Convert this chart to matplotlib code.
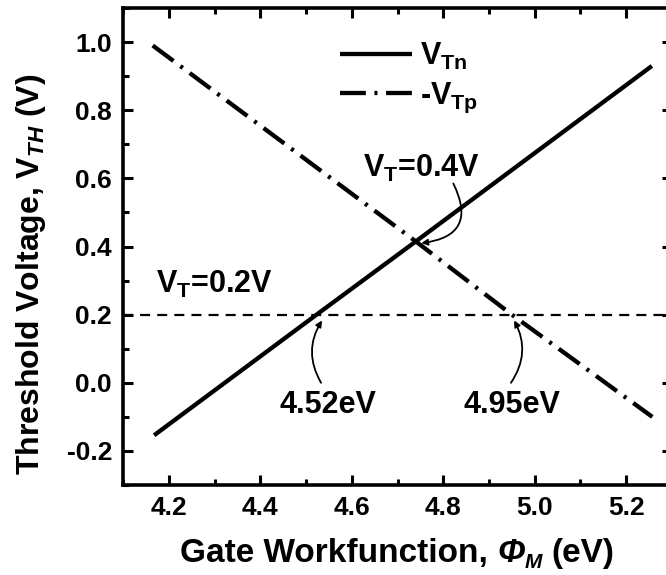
import matplotlib
matplotlib.use('Agg')
import matplotlib.pyplot as plt
import numpy as np

plt.rcParams['font.family'] = 'Liberation Sans'
plt.rcParams['font.weight'] = 'bold'
plt.rcParams['axes.labelweight'] = 'bold'
plt.rcParams['mathtext.fontset'] = 'custom'
plt.rcParams['mathtext.rm'] = 'Liberation Sans:bold'
plt.rcParams['mathtext.bf'] = 'Liberation Sans:bold'
plt.rcParams['mathtext.it'] = 'Liberation Sans:bold:italic'

# %% data
phi_n = [4.168, 4.52, 4.74, 5.256]
vtn = [-0.154, 0.197, 0.415, 0.93]

phi_p = [4.165, 4.74, 4.95, 5.257]
vtp_neg = [0.99, 0.415, 0.20, -0.10]

vt_target = 0.2

xticks = [4.2, 4.4, 4.6, 4.8, 5.0, 5.2]
yticks = [-0.2, 0.0, 0.2, 0.4, 0.6, 0.8, 1.0]

# %% plot
fig = plt.figure(figsize=(6.66, 5.75), dpi=100)
ax = fig.add_axes([0.1847, 0.1565, 0.8243, 0.8295])

ax.plot(phi_n, vtn, color='black', lw=3.1, solid_capstyle='butt',
        label=r'$\mathrm{V_{Tn}}$')
ax.plot(phi_p, vtp_neg, color='black', lw=3.1, dashes=(6, 2.0, 0.7, 2.0),
        label=r'-$\mathrm{V_{Tp}}$')
ax.axhline(vt_target, color='black', lw=1.6, dashes=(4.5, 3.2))

ax.set_xlim(4.1, 5.3)
ax.set_ylim(-0.3, 1.1)
ax.set_xticks(xticks)
ax.set_yticks(yticks)
ax.set_xticks(np.arange(4.1, 5.31, 0.1), minor=True)
ax.set_yticks(np.arange(-0.3, 1.11, 0.1), minor=True)
ax.xaxis.set_major_formatter(matplotlib.ticker.FormatStrFormatter('%.1f'))
ax.yaxis.set_major_formatter(matplotlib.ticker.FormatStrFormatter('%.1f'))
ax.tick_params(which='both', direction='in', top=True, right=True,
               labelsize=19, width=2.2)
ax.tick_params(which='major', length=7, pad=8)
ax.tick_params(which='minor', length=4)
for s in ax.spines.values():
    s.set_linewidth(2.6)

ax.set_ylabel(r'Threshold Voltage, $\mathrm{V}_{\mathit{TH}}$ (V)',
              fontsize=23)
ax.yaxis.set_label_coords(-0.137, 0.442)

# x label built from pieces so the Phi can be italic
renderer = fig.canvas.get_renderer()
W, H = fig.bbox.width, fig.bbox.height
pieces = [('Gate Workfunction,', 24, 'normal', 0, 9),
          ('Φ', 24, 'italic', 0, 0),
          ('M', 15, 'italic', -6, 9),
          ('(eV)', 24, 'normal', 0, 0)]
texts = []
widths = []
for s, size, style, dy, gap in pieces:
    t = fig.text(0, 0, s, fontsize=size, style=style, va='baseline')
    texts.append(t)
    widths.append(t.get_window_extent(renderer).width)
total = sum(widths) + sum(p[4] for p in pieces[:-1])
x0 = 397 - total / 2
base = 13
for t, w, (s, size, style, dy, gap) in zip(texts, widths, pieces):
    t.set_position((x0 / W, (base + dy) / H))
    x0 += w + gap

leg = ax.legend(loc='upper left', bbox_to_anchor=(0.345, 0.989), frameon=False,
                fontsize=22, handlelength=2.36, handletextpad=0.26,
                labelspacing=0.28)

# annotations
ax.text(4.172, 0.29, r'$\mathrm{V_T}$=0.2V', fontsize=22, va='center')
ax.text(4.625, 0.63, r'$\mathrm{V_T}$=0.4V', fontsize=22, va='center')
ax.text(4.547, -0.065, '4.52eV', fontsize=22, ha='center', va='center')
ax.text(4.951, -0.065, '4.95eV', fontsize=22, ha='center', va='center')

arr = dict(arrowstyle='-|>', color='black', lw=1.3, mutation_scale=9,
           shrinkA=0, shrinkB=0)
ax.annotate('', xy=(4.752, 0.41), xytext=(4.822, 0.585),
            arrowprops=dict(arr, connectionstyle='arc3,rad=-0.7'))
ax.annotate('', xy=(4.535, 0.183), xytext=(4.533, 0.0),
            arrowprops=dict(arr, connectionstyle='arc3,rad=-0.3'))
ax.annotate('', xy=(4.955, 0.183), xytext=(4.948, 0.0),
            arrowprops=dict(arr, connectionstyle='arc3,rad=0.3'))

fig.savefig('out.png', dpi=100)
